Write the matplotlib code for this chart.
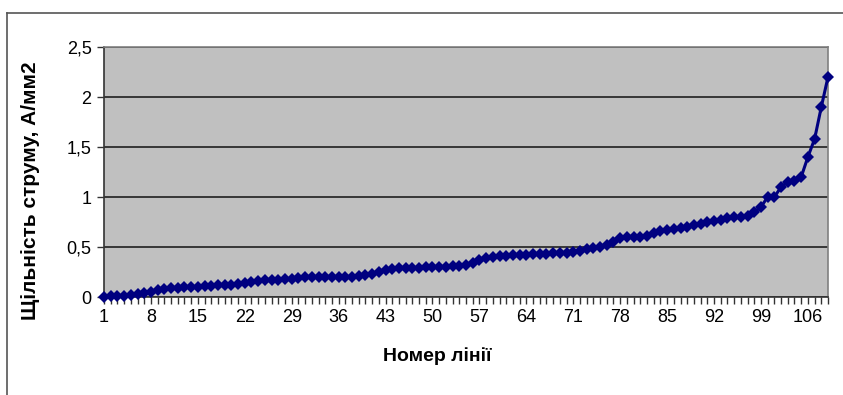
import matplotlib
matplotlib.use("Agg")
import matplotlib.pyplot as plt
from matplotlib.lines import Line2D
from matplotlib.ticker import FuncFormatter, MultipleLocator

# line numbers 1..109 and current density, A/mm2
line_no = list(range(1, 110))
density = [
    0.00, 0.01, 0.01, 0.01, 0.02, 0.03, 0.04, 0.05, 0.07, 0.08,
    0.09, 0.09, 0.10, 0.10, 0.10, 0.11, 0.11, 0.12, 0.12, 0.12,
    0.13, 0.14, 0.15, 0.16, 0.17, 0.17, 0.17, 0.18, 0.18, 0.19,
    0.20, 0.20, 0.20, 0.20, 0.20, 0.20, 0.20, 0.20, 0.21, 0.22,
    0.23, 0.25, 0.27, 0.28, 0.29, 0.29, 0.29, 0.29, 0.30, 0.30,
    0.30, 0.30, 0.31, 0.31, 0.32, 0.34, 0.37, 0.39, 0.40, 0.41,
    0.41, 0.42, 0.42, 0.42, 0.43, 0.43, 0.43, 0.44, 0.44, 0.44,
    0.45, 0.46, 0.48, 0.49, 0.50, 0.52, 0.55, 0.59, 0.60, 0.60,
    0.60, 0.61, 0.64, 0.66, 0.67, 0.68, 0.69, 0.70, 0.72, 0.73,
    0.75, 0.76, 0.77, 0.79, 0.80, 0.80, 0.81, 0.85, 0.90, 1.00,
    1.00, 1.10, 1.15, 1.16, 1.20, 1.40, 1.58, 1.90, 2.20,
]
x_labels = list(range(1, 110, 7))
y_ticks = [0, 0.5, 1, 1.5, 2, 2.5]

plt.rcParams['font.family'] = ['Liberation Sans', 'DejaVu Sans']

W, H = 843, 395
fig = plt.figure(figsize=(W / 100, H / 100), dpi=100)
ax = fig.add_axes([104 / W, 1 - 297 / H, (828 - 104) / W, (297 - 47) / H])
ax.set_facecolor('#c0c0c0')

ax.plot(line_no, density, color='#000080', lw=2.2, marker='D', ms=6,
        markeredgewidth=0, zorder=3, clip_on=False)

ax.set_xlim(1, 109)
ax.set_ylim(0, 2.5)
ax.set_xticks(x_labels)
ax.xaxis.set_minor_locator(MultipleLocator(1))
ax.set_yticks(y_ticks)
ax.yaxis.set_major_formatter(FuncFormatter(lambda v, p: ('%g' % v).replace('.', ',')))
ax.tick_params(axis='x', which='both', direction='out', length=5, width=1,
               color='#333333', labelsize=13, pad=4)
ax.tick_params(axis='y', direction='out', length=5, width=1, color='#333333',
               labelsize=13, pad=4)
ax.grid(axis='y', color='#202020', lw=1.2)
ax.set_axisbelow(True)

for side in ['left', 'bottom']:
    ax.spines[side].set_color('#333333')
    ax.spines[side].set_linewidth(1.2)
for side in ['top', 'right']:
    ax.spines[side].set_color('#808080')
    ax.spines[side].set_linewidth(1.2)

fig.text(30 / W, 1 - 191 / H, 'Щільність струму, А/мм2', rotation=90,
         ha='center', va='center', fontsize=15, fontweight='bold')
fig.text(437 / W, 1 - 356 / H, 'Номер лінії', ha='center', va='center',
         fontsize=14, fontweight='bold')

# outer chart frame
fig.add_artist(Line2D([7 / W, 1], [1 - 13 / H, 1 - 13 / H], color='#555555', lw=1.2))
fig.add_artist(Line2D([7 / W, 7 / W], [0, 1 - 13 / H], color='#555555', lw=1.2))

fig.savefig('out.png', dpi=100)
